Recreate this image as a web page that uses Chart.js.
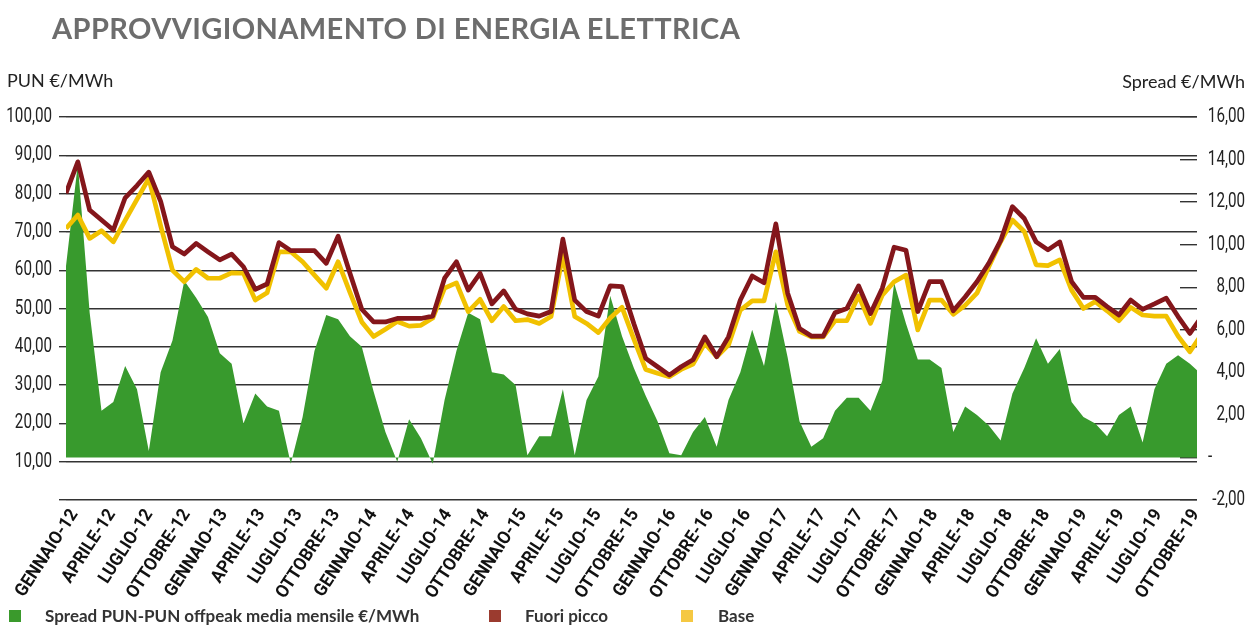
<!DOCTYPE html>
<html lang="it">
<head>
<meta charset="utf-8">
<title>Approvvigionamento di energia elettrica</title>
<script src="https://cdn.jsdelivr.net/npm/chart.js@4.4.1/dist/chart.umd.min.js"></script>
<style>
  body { margin: 0; background: #fff; }
  #wrap { position: relative; width: 1251px; height: 625px; overflow: hidden; font-family: Lato, sans-serif; }
  #chart { position: absolute; left: 0; top: 0; }
  .txt { position: absolute; white-space: nowrap; line-height: 1; }
  #titolo { left: 52px; top: 13px; font-size: 29px; font-weight: 700; letter-spacing: 0.4px; color: #6d6d6d; }
  #asseSx { left: 7px; top: 71px; font-size: 18px; color: #222; }
  #asseDx { right: 6px; top: 72px; font-size: 18px; color: #222; }
  .leg { top: 607px; font-size: 17px; font-weight: 700; color: #333; }
  .box { position: absolute; top: 610px; width: 12px; height: 12px; }
</style>
</head>
<body>
<div id="wrap">
  <canvas id="chart" width="1251" height="625"></canvas>
  <div class="txt" id="titolo">APPROVVIGIONAMENTO DI ENERGIA ELETTRICA</div>
  <div class="txt" id="asseSx">PUN €/MWh</div>
  <div class="txt" id="asseDx">Spread €/MWh</div>
  <div class="box" style="left:9px;background:#3a9a2c"></div>
  <div class="txt leg" style="left:45px">Spread PUN-PUN offpeak media mensile €/MWh</div>
  <div class="box" style="left:489px;background:#9b3b2f"></div>
  <div class="txt leg" style="left:525px">Fuori picco</div>
  <div class="box" style="left:681px;background:#f5c842"></div>
  <div class="txt leg" style="left:718px">Base</div>
</div>
<script>
"use strict";

// Mesi da gennaio 2012 a gennaio 2020 (l'ultimo mese e' tagliato dal bordo del grafico)
const MESI = ['Gen', 'Feb', 'Mar', 'Apr', 'Mag', 'Giu', 'Lug', 'Ago', 'Set', 'Ott', 'Nov', 'Dic'];
const categorie = [];
for (let anno = 12; anno <= 20; anno++) {
  MESI.forEach(m => categorie.push(`${m}-${anno}`));
}
categorie.length = 97;

// Etichette dell'asse orizzontale, come nel grafico originale
const etichetteAsse = [
  'GENNAIO-12', 'APRILE-12', 'LUGLIO-12', 'OTTOBRE-12',
  'GENNAIO-13', 'APRILE-13', 'LUGLIO-13', 'OTTOBRE-13',
  'GENNAIO-14', 'APRILE-14', 'LUGLIO-14', 'OTTOBRE-14',
  'GENNAIO-15', 'APRILE-15', 'LUGLIO-15', 'OTTOBRE-15',
  'GENNAIO-16', 'OTTOBRE-16', 'LUGLIO-16',
  'GENNAIO-17', 'APRILE-17', 'LUGLIO-17', 'OTTOBRE-17',
  'GENNAIO-18', 'APRILE-18', 'LUGLIO-18', 'OTTOBRE-18',
  'GENNAIO-19', 'APRILE-19', 'LUGLIO-19', 'OTTOBRE-19'
];

// PUN €/MWh
const fuoriPicco = [
  80.1, 88.3, 75.7, 73.1, 70.5, 78.9, 82.1, 85.6, 78.0, 66.1, 64.2, 67.0, 64.8, 62.7, 64.2, 60.9,
  55.0, 56.4, 67.2, 65.1, 65.1, 65.1, 61.8, 68.9, 59.2, 49.8, 46.5, 46.5, 47.4, 47.4, 47.4, 48.0,
  57.9, 62.2, 54.8, 59.2, 51.2, 54.6, 49.8, 48.6, 48.0, 49.2, 68.1, 52.2, 49.2, 48.0, 55.9, 55.7,
  46.0, 37.0, 34.8, 32.6, 34.8, 36.6, 42.6, 37.4, 42.6, 52.2, 58.5, 56.7, 72.1, 54.0, 44.8, 42.8,
  42.8, 48.9, 50.0, 55.9, 48.7, 55.3, 66.0, 65.2, 49.2, 57.0, 57.0, 49.4, 53.0, 57.0, 61.8, 67.7,
  76.6, 73.5, 67.4, 65.3, 67.4, 57.0, 52.9, 52.9, 50.5, 48.3, 52.2, 49.8, 51.2, 52.7, 47.9, 43.5,
  47.9
];
const base = [
  70.9, 74.4, 68.3, 70.3, 67.4, 73.0, 78.5, 84.0, 71.6, 60.0, 57.0, 60.2, 57.9, 57.9, 59.3, 59.2,
  52.2, 54.1, 64.8, 64.8, 62.2, 58.7, 55.3, 62.2, 54.2, 46.5, 42.7, 44.6, 46.6, 45.4, 45.6, 47.5,
  55.3, 56.7, 49.2, 52.4, 46.8, 50.5, 46.8, 47.1, 46.1, 47.9, 64.0, 47.9, 46.1, 43.7, 47.5, 50.3,
  42.0, 34.1, 33.1, 32.2, 34.1, 35.5, 40.9, 37.4, 40.5, 49.6, 52.0, 52.0, 64.8, 50.9, 44.0, 42.6,
  42.6, 46.8, 46.8, 53.3, 46.1, 53.5, 57.0, 58.7, 44.4, 52.2, 52.2, 48.5, 50.8, 54.0, 60.9, 67.4,
  73.1, 70.1, 61.4, 61.2, 62.7, 54.8, 50.0, 51.8, 49.4, 46.8, 50.3, 48.3, 48.0, 48.0, 42.8, 38.7,
  43.3
];

// Spread €/MWh (asse destro)
const spread = [
  9.0, 13.8, 6.8, 2.2, 2.6, 4.3, 3.2, 0.3, 4.0, 5.5, 8.3, 7.5, 6.6, 4.9, 4.4, 1.6,
  3.0, 2.4, 2.2, -0.3, 1.9, 5.0, 6.7, 6.5, 5.7, 5.2, 3.1, 1.2, -0.2, 1.8, 0.9, -0.3,
  2.7, 5.0, 6.8, 6.5, 4.0, 3.9, 3.4, 0.1, 1.0, 1.0, 3.2, 0.1, 2.7, 3.8, 7.6, 5.7,
  4.2, 2.9, 1.7, 0.2, 0.1, 1.2, 1.9, 0.5, 2.7, 4.0, 6.0, 4.3, 7.3, 4.7, 1.7, 0.5,
  0.9, 2.2, 2.8, 2.8, 2.2, 3.6, 8.2, 6.3, 4.6, 4.6, 4.2, 1.2, 2.4, 2.0, 1.5, 0.8,
  3.0, 4.2, 5.6, 4.4, 5.1, 2.6, 1.9, 1.6, 1.0, 2.0, 2.4, 0.7, 3.2, 4.4, 4.8, 4.4,
  3.9
];

const toPoints = (values) => values.map((v, i) => ({ x: i, y: v, mese: categorie[i] }));
const numIt = (v) => v.toFixed(2).replace('.', ',');

// Scrive un testo stretto in orizzontale (il font originale e' condensato)
const scrittaStretta = (ctx, testo, x, y, angolo, allinea, strettezza, dy) => {
  ctx.save();
  ctx.translate(x, y);
  ctx.rotate(angolo);
  ctx.scale(strettezza, 1);
  ctx.textAlign = allinea;
  ctx.fillText(testo, 0, dy || 0);
  ctx.restore();
};

// Disegna le etichette degli assi con il font condensato
const etichetteStrette = {
  id: 'etichetteStrette',
  afterDraw: (chart) => {
    const ctx = chart.ctx;
    const { y, y2, xl } = chart.scales;
    ctx.save();
    ctx.textBaseline = 'middle';
    ctx.fillStyle = '#222';
    ctx.font = '20px Roboto';

    y.ticks.forEach(t => {
      if (t.value === 0) return;
      scrittaStretta(ctx, numIt(t.value), y.right - 14, y.getPixelForValue(t.value), 0, 'right', 0.76);
    });

    y2.ticks.forEach(t => {
      const py = y2.getPixelForValue(t.value);
      if (t.value === 0) {
        scrittaStretta(ctx, '-', y2.left + 11, py, 0, 'left', 0.76);
      } else {
        scrittaStretta(ctx, numIt(t.value), y2.right, py, 0, 'right', 0.76);
      }
    });

    ctx.fillStyle = '#111';
    ctx.font = 'bold 18px Roboto';
    const angolo = -57 * Math.PI / 180;
    etichetteAsse.forEach((testo, i) => {
      scrittaStretta(ctx, testo, xl.getPixelForValue(i), xl.top + 7, angolo, 'right', 0.95, 8);
    });
    ctx.restore();
  }
};

new Chart(document.getElementById('chart'), {
  type: 'line',
  data: {
    datasets: [{
      label: 'Fuori picco',
      data: toPoints(fuoriPicco),
      yAxisID: 'y',
      borderColor: '#84161b',
      borderWidth: 4.7,
      borderJoinStyle: 'round',
      pointRadius: 0,
      tension: 0,
      clip: 0,
      order: 1
    }, {
      label: 'Base',
      data: toPoints(base),
      yAxisID: 'y',
      borderColor: '#f1c100',
      borderWidth: 4.7,
      borderJoinStyle: 'round',
      pointRadius: 0,
      tension: 0,
      clip: 0,
      order: 2
    }, {
      label: 'Spread PUN-PUN offpeak media mensile €/MWh',
      data: toPoints(spread),
      yAxisID: 'y2',
      backgroundColor: '#389a2d',
      borderColor: 'rgba(0,0,0,0)',
      borderWidth: 0,
      fill: { value: 0 },
      pointRadius: 0,
      tension: 0,
      clip: 0,
      order: 3
    }]
  },
  options: {
    responsive: false,
    animation: false,
    devicePixelRatio: 1,
    layout: { padding: { top: 117, right: 6, left: 0, bottom: 0 } },
    plugins: {
      legend: { display: false },
      tooltip: { enabled: false }
    },
    scales: {
      x: { type: 'linear', display: false, min: 0, max: 95.6 },
      xl: {
        type: 'linear',
        position: 'bottom',
        min: -0.05,
        max: 30.21,
        afterBuildTicks: (scale) => {
          scale.ticks = etichetteAsse.map((_, i) => ({ value: i }));
        },
        afterFit: (scale) => { scale.height = 125; },
        grid: { display: false },
        border: { display: false },
        ticks: { display: false }
      },
      y: {
        position: 'left',
        min: 0,
        max: 100,
        afterFit: (scale) => { scale.width = 66; },
        border: { display: false },
        grid: { color: '#333', lineWidth: 1.4, tickLength: 7 },
        ticks: { stepSize: 10, display: false }
      },
      y2: {
        position: 'right',
        min: -2,
        max: 16,
        afterFit: (scale) => { scale.width = 48; },
        border: { display: false },
        grid: { drawOnChartArea: false, color: '#333', lineWidth: 1.4, tickLength: -17 },
        ticks: { stepSize: 2, display: false }
      }
    }
  },
  plugins: [etichetteStrette]
});
</script>
</body>
</html>
